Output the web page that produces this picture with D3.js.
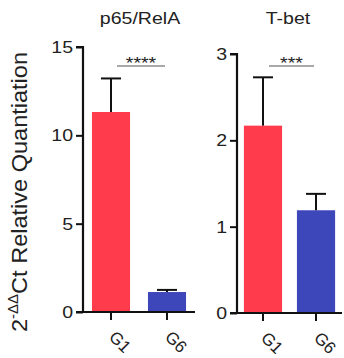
<!DOCTYPE html>
<html>
<head>
<style>
  body { margin: 0; background: #fff; }
  text { font-family: "Liberation Sans", Arial, sans-serif; fill: #222; }
</style>
</head>
<body>
<svg width="344" height="358"></svg>
<script src="https://d3js.org/d3.v7.min.js"></script>
<script>
// data
var groups = ['G1', 'G6'];
var p65Mean = [11.32, 1.13];
var p65Err = [1.9, 0.12];
var tbetMean = [2.17, 1.19];
var tbetErr = [0.56, 0.19];
var p65Ticks = [0, 5, 10, 15];
var tbetTicks = [0, 1, 2, 3];
var colors = ['#ff3b4c', '#3d47b9'];

var svg = d3.select('svg');
var sx = 1.15; // the source figure is a bit stretched sideways

// one panel = y axis, bars, error bars, significance mark
function panel(opt) {
    var x = d3.scaleBand()
        .domain(groups)
        .range([opt.x0, opt.x1])
        .paddingInner(opt.pin)
        .paddingOuter(opt.pout);
    var y = d3.scaleLinear()
        .domain([0, opt.max])
        .range([opt.y0, opt.y1]);

    var g = svg.append('g');

    // bars
    g.selectAll('rect.bar')
        .data(groups)
        .enter().append('rect')
        .attr('class', 'bar')
        .attr('x', function (d) { return x(d); })
        .attr('width', x.bandwidth())
        .attr('y', function (d, i) { return y(opt.mean[i]); })
        .attr('height', function (d, i) { return y(0) - y(opt.mean[i]); })
        .attr('fill', function (d, i) { return colors[i]; });

    // error bars (upper only)
    var eb = g.selectAll('g.err')
        .data(groups)
        .enter().append('g')
        .attr('class', 'err');
    eb.append('line')
        .attr('x1', function (d) { return x(d) + x.bandwidth() / 2; })
        .attr('x2', function (d) { return x(d) + x.bandwidth() / 2; })
        .attr('y1', function (d, i) { return y(opt.mean[i]); })
        .attr('y2', function (d, i) { return y(opt.mean[i] + opt.err[i]); })
        .attr('stroke', '#111')
        .attr('stroke-width', 2);
    eb.append('line')
        .attr('x1', function (d) { return x(d) + x.bandwidth() / 2 - 10; })
        .attr('x2', function (d) { return x(d) + x.bandwidth() / 2 + 10; })
        .attr('y1', function (d, i) { return y(opt.mean[i] + opt.err[i]); })
        .attr('y2', function (d, i) { return y(opt.mean[i] + opt.err[i]); })
        .attr('stroke', '#111')
        .attr('stroke-width', 2);

    // y axis
    var ya = g.append('g')
        .attr('transform', 'translate(' + opt.x0 + ',0)')
        .call(d3.axisLeft(y).tickValues(opt.ticks).tickSize(7).tickPadding(2).tickFormat(d3.format('d')));
    ya.select('.domain').attr('stroke', '#111').attr('stroke-width', 2.2)
        .attr('d', 'M-7,' + y(opt.max) + 'H0V' + y(0));
    ya.selectAll('.tick line').attr('stroke', '#111').attr('stroke-width', 2);
    ya.selectAll('.tick text').attr('font-size', 17).attr('fill', '#222')
        .attr('font-family', '"Liberation Sans", Arial, sans-serif')
        .attr('x', -10 / sx)
        .attr('transform', 'scale(' + sx + ',1)');

    // x axis
    var xa = g.append('g')
        .attr('transform', 'translate(0,' + y(0) + ')')
        .call(d3.axisBottom(x).tickSize(8).tickFormat(''));
    xa.select('.domain').attr('stroke', '#111').attr('stroke-width', 2.2)
        .attr('d', 'M' + (opt.x0 - 7) + ',0H' + opt.x1);
    xa.selectAll('.tick line').attr('stroke', '#111').attr('stroke-width', 2);
    xa.selectAll('.tick').append('text')
        .attr('transform', 'translate(-3,26) rotate(45)')
        .attr('font-size', 17)
        .attr('text-anchor', 'start')
        .attr('fill', '#222')
        .text(function (d) { return d; });

    // significance bar
    var sx1 = x(groups[0]) + x.bandwidth() / 2 + 6;
    var sx2 = x(groups[1]) + x.bandwidth() / 2 - 2;
    g.append('line')
        .attr('x1', sx1).attr('x2', sx2)
        .attr('y1', opt.sigY).attr('y2', opt.sigY)
        .attr('stroke', '#555').attr('stroke-width', 1.2);
    g.append('text')
        .attr('transform', 'translate(' + ((sx1 + sx2) / 2) + ',' + (opt.sigY + 3) + ') scale(' + sx + ',1)')
        .attr('text-anchor', 'middle')
        .attr('font-size', 17)
        .text(opt.stars);

    // title
    g.append('text')
        .attr('transform', 'translate(' + opt.titleX + ',24) scale(' + sx + ',1)')
        .attr('text-anchor', 'middle')
        .attr('font-size', 17)
        .text(opt.title);
}

panel({
    x0: 83, x1: 195, pin: 0.32, pout: 0.16,
    y0: 312, y1: 47, max: 15,
    mean: p65Mean, err: p65Err, ticks: p65Ticks,
    sigY: 66, stars: '****', title: 'p65/RelA', titleX: 140
});
panel({
    x0: 237, x1: 342, pin: 0.28, pout: 0.13,
    y0: 313, y1: 54, max: 3,
    mean: tbetMean, err: tbetErr, ticks: tbetTicks,
    sigY: 66, stars: '***', title: 'T-bet', titleX: 288
});

// y label
var yl = svg.append('text')
    .attr('transform', 'translate(27,192) rotate(-90) scale(1.07,1)')
    .attr('text-anchor', 'middle')
    .attr('font-size', 22);
yl.append('tspan').text('2');
yl.append('tspan').attr('font-size', 14).attr('dy', -9).text('-ΔΔ');
yl.append('tspan').attr('dy', 9).text('Ct Relative Quantiation');
</script>
</body>
</html>
